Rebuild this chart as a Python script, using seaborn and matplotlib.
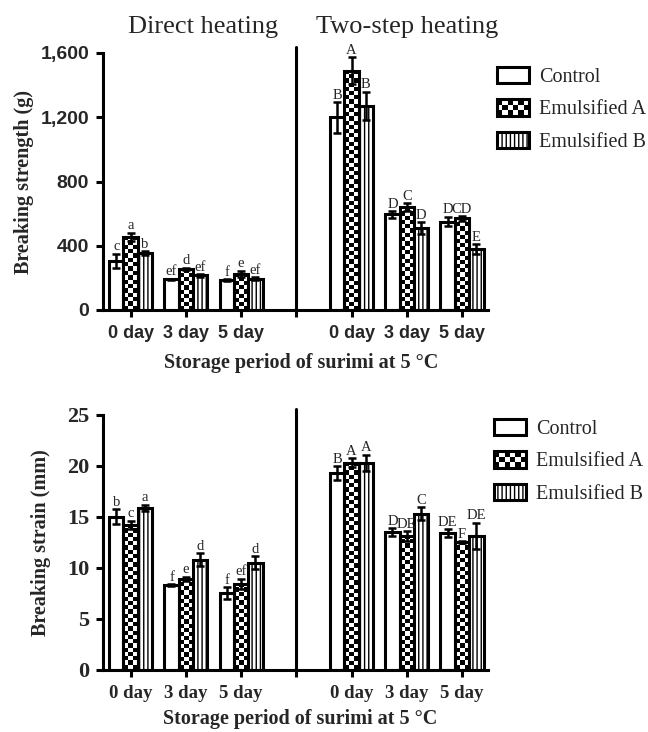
import numpy as np
import pandas as pd
import matplotlib
matplotlib.use("Agg")
import matplotlib.pyplot as plt
import seaborn as sns
from matplotlib.patches import Rectangle, Patch
from matplotlib.legend_handler import HandlerBase
from matplotlib.ticker import FuncFormatter
from matplotlib.container import BarContainer

# ---------------- data ----------------
days = ["0 day", "3 day", "5 day"]
methods = ["Direct heating", "Two-step heating"]
groups = ["Control", "Emulsified A", "Emulsified B"]

# order within each list: Direct 0,3,5 day then Two-step 0,3,5 day
strength_control = [305, 190, 185, 1200, 595, 550]
strength_emul_a = [455, 255, 225, 1490, 640, 570]
strength_emul_b = [355, 215, 195, 1270, 510, 380]
strength_control_sd = [45, 6, 6, 95, 20, 30]
strength_emul_a_sd = [25, 8, 20, 85, 25, 15]
strength_emul_b_sd = [10, 8, 8, 90, 35, 30]
strength_control_letters = ["c", "ef", "f", "B", "D", "D"]
strength_emul_a_letters = ["a", "d", "e", "A", "C", "CD"]
strength_emul_b_letters = ["b", "ef", "ef", "B", "D", "E"]

strain_control = [15.0, 8.3, 7.5, 19.3, 13.5, 13.4]
strain_emul_a = [14.2, 8.9, 8.4, 20.3, 13.1, 12.5]
strain_emul_b = [15.9, 10.8, 10.5, 20.3, 15.3, 13.1]
strain_control_sd = [0.75, 0.1, 0.6, 0.65, 0.4, 0.4]
strain_emul_a_sd = [0.4, 0.2, 0.5, 0.45, 0.5, 0.1]
strain_emul_b_sd = [0.3, 0.6, 0.65, 0.8, 0.65, 1.3]
strain_control_letters = ["b", "f", "f", "B", "D", "DE"]
strain_emul_a_letters = ["c", "e", "ef", "A", "DE", "F"]
strain_emul_b_letters = ["a", "d", "d", "A", "C", "DE"]

strength_ticks = [0, 400, 800, 1200, 1600]
strain_ticks = [0, 5, 10, 15, 20, 25]

# ---------------- style ----------------
sns.set_style("ticks")
SERIF = "Liberation Serif"
SANS = "Liberation Sans"
plt.rcParams["font.family"] = [SERIF, "DejaVu Sans"]
plt.rcParams["hatch.linewidth"] = 1.0
plt.rcParams["hatch.color"] = "black"

LW = 2.2
LEG_FS = 14.5
slots = [f"{m}|{d}" for m in methods for d in days]
GAP = "gap"
order = slots[:3] + [GAP] + slots[3:]


class CheckerHandler(HandlerBase):
    def create_artists(self, legend, orig_handle, xdescent, ydescent,
                       width, height, fontsize, trans):
        x0, y0 = -xdescent, -ydescent
        arts = [Rectangle((x0, y0), width, height, facecolor="white",
                          edgecolor="none", transform=trans)]
        nx, ny = 6, 3
        cw, ch = width / nx, height / ny
        for i in range(nx):
            for j in range(ny):
                if (i + j) % 2 == 0:
                    arts.append(Rectangle((x0 + i * cw, y0 + j * ch), cw, ch,
                                          facecolor="black", edgecolor="none",
                                          transform=trans))
        arts.append(Rectangle((x0, y0), width, height, facecolor="none",
                              edgecolor="black", lw=LW, transform=trans))
        return arts


def panel(ax, means, sds, letters, ymax, yticks, tick_font, ytick_size,
          xtick_size, ylabel, ylabel_x, xlabel_xy, legend_anchor, fig):
    rows = []
    for g, vals in zip(groups, means):
        for s, v in zip(slots, vals):
            rows.append({"slot": s, "value": v, "group": g})
    df = pd.DataFrame(rows)
    sns.barplot(data=df, x="slot", y="value", hue="group", order=order,
                hue_order=groups, palette={g: "white" for g in groups},
                saturation=1, width=0.78, edgecolor="black", linewidth=LW,
                errorbar=None, legend=False, ax=ax)

    xlim = (-0.5, len(order) - 1 + 0.47)
    ax.set_xlim(*xlim)
    ax.set_ylim(0, ymax)

    bar_conts = [c for c in ax.containers if isinstance(c, BarContainer)]
    checker_bars = []
    for gi, cont in enumerate(bar_conts):
        bars = sorted(cont.patches, key=lambda p: p.get_x())
        for j, p in enumerate(bars):
            xc = p.get_x() + p.get_width() / 2
            top = p.get_height()
            sd = sds[gi][j]
            ax.errorbar(xc, top, yerr=sd, fmt="none", ecolor="black",
                        elinewidth=1.8, capsize=3, capthick=1.8, zorder=4)
            ax.annotate(letters[gi][j], (xc, top + sd), xytext=(0, 2.5),
                        textcoords="offset points", ha="center",
                        va="baseline", fontsize=10.5, fontfamily=SERIF,
                        zorder=5)
            if gi == 2:
                p.set_hatch("||||")
            if gi == 1:
                p.set_facecolor("none")
                checker_bars.append(p)

    # checkerboard fill for Emulsified A bars
    for p in checker_bars:
        x0, y0 = p.get_x(), p.get_y()
        w, h = p.get_width(), p.get_height()
        a = ax.transData.transform((x0, y0))
        b = ax.transData.transform((x0 + w, y0 + h))
        nx = max(2, int(round(abs(b[0] - a[0]) / 4.2)))
        ny = max(2, int(round(abs(b[1] - a[1]) / 4.2)))
        arr = np.indices((ny, nx)).sum(0) % 2
        im = ax.imshow(arr, extent=(x0, x0 + w, y0, y0 + h), origin="lower",
                       cmap="gray", vmin=0, vmax=1, aspect="auto",
                       interpolation="nearest", zorder=0.9)
        im.set_clip_path(p)
    ax.set_xlim(*xlim)
    ax.set_ylim(0, ymax)

    gap_pos = order.index(GAP)
    ax.axvline(gap_pos, ymin=0, ymax=1.025, color="black", lw=LW,
               clip_on=False, zorder=3)

    ax.set_xticks(range(len(order)))
    ax.set_xticklabels(days + [""] + days)
    ax.set_yticks(yticks)
    if ymax > 100:
        ax.yaxis.set_major_formatter(FuncFormatter(lambda v, _: f"{v:,.0f}"))
    ax.tick_params(axis="both", width=LW, length=5, color="black")
    ax.tick_params(axis="x", pad=6)
    ax.tick_params(axis="y", pad=5)
    for lab in ax.get_xticklabels():
        lab.set_fontfamily(tick_font)
        lab.set_fontweight("bold")
        lab.set_fontsize(xtick_size)
    for lab in ax.get_yticklabels():
        lab.set_fontfamily(tick_font)
        lab.set_fontweight("bold")
        lab.set_fontsize(ytick_size)

    for sp in ["top", "right"]:
        ax.spines[sp].set_visible(False)
    for sp in ["left", "bottom"]:
        ax.spines[sp].set_linewidth(LW)
        ax.spines[sp].set_color("black")

    ax.set_ylabel(ylabel, fontfamily=SERIF, fontweight="bold", fontsize=14.5)
    ax.yaxis.set_label_coords(ylabel_x, 0.5)
    ax.yaxis.label.set_va("center")
    ax.set_xlabel("Storage period of surimi at 5 \u00b0C", fontfamily=SERIF,
                  fontweight="bold", fontsize=14.5)
    ax.xaxis.set_label_coords(*xlabel_xy)
    ax.xaxis.label.set_va("center")

    handles = [Patch(facecolor="white", edgecolor="black", lw=LW),
               Patch(facecolor="white", edgecolor="black", lw=LW),
               Patch(facecolor="white", edgecolor="black", lw=LW, hatch="||||")]
    ax.legend(handles=handles, labels=groups,
              handler_map={handles[1]: CheckerHandler()},
              loc="upper left", bbox_to_anchor=legend_anchor,
              bbox_transform=fig.transFigure, frameon=False,
              prop={"family": SERIF, "size": LEG_FS}, handlelength=1.6,
              handleheight=0.85, handletextpad=0.5, labelspacing=0.62,
              borderpad=0, borderaxespad=0)


W, H = 648, 732
fig = plt.figure(figsize=(W / 100, H / 100), dpi=100)

ax1 = fig.add_axes([103 / W, 1 - 310 / H, 385 / W, 257 / H])
panel(ax1,
      [strength_control, strength_emul_a, strength_emul_b],
      [strength_control_sd, strength_emul_a_sd, strength_emul_b_sd],
      [strength_control_letters, strength_emul_a_letters, strength_emul_b_letters],
      1600, strength_ticks, SANS, 14, 13,
      "Breaking strength (g)", -0.205, (0.514, -0.205),
      (497 / W, 1 - 67 / H), fig)
ax1.text((203 - 103) / 385, (310 - 27) / 257, methods[0], transform=ax1.transAxes,
         ha="center", va="center", fontsize=19, fontfamily=SERIF)
ax1.text((407 - 103) / 385, (310 - 27) / 257, methods[1], transform=ax1.transAxes,
         ha="center", va="center", fontsize=19, fontfamily=SERIF)

ax2 = fig.add_axes([103 / W, 1 - 669.5 / H, 385 / W, 254.5 / H])
panel(ax2,
      [strain_control, strain_emul_a, strain_emul_b],
      [strain_control_sd, strain_emul_a_sd, strain_emul_b_sd],
      [strain_control_letters, strain_emul_a_letters, strain_emul_b_letters],
      25, strain_ticks, SERIF, 16, 13.5,
      "Breaking strain (mm)", -0.161, (0.512, -0.195),
      (494 / W, 1 - 419 / H), fig)

fig.savefig("out.png", dpi=100)
